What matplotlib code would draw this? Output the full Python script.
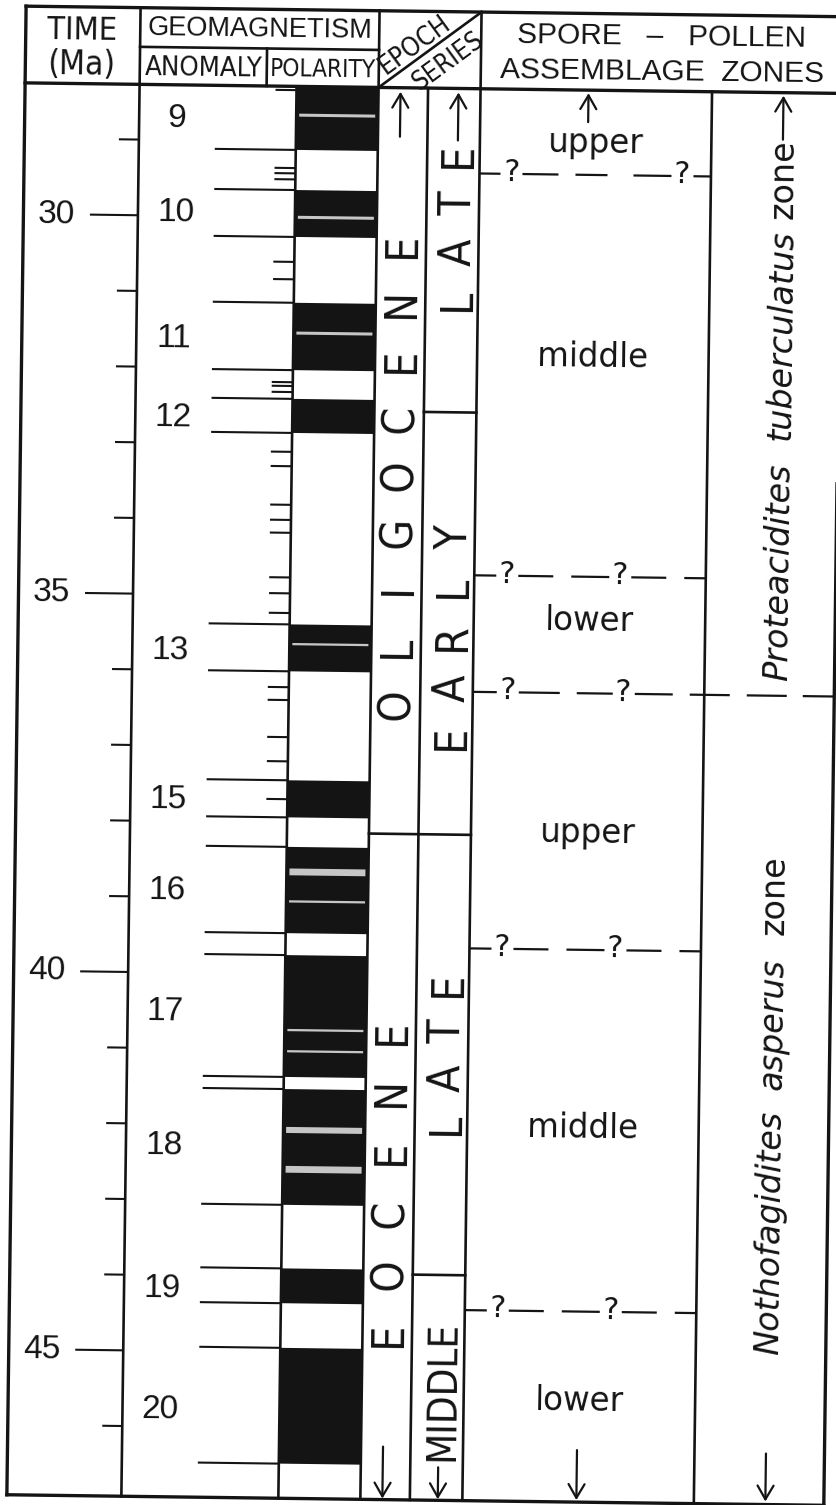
import numpy as np
import matplotlib
matplotlib.use("Agg")
import matplotlib.pyplot as plt
from matplotlib.patches import Rectangle
from matplotlib.transforms import Affine2D
from matplotlib import font_manager as fm

# ---- values (ages in Ma) ----
time_major = [30, 35, 40, 45]
time_minor = [29, 31, 32, 33, 34, 36, 37, 38, 39, 41, 42, 43, 44, 46]

anomaly_labels = ["9", "10", "11", "12", "13", "15", "16", "17", "18", "19", "20"]
anomaly_age = [28.67, 29.92, 31.58, 32.63, 35.70, 37.68, 38.88, 40.47, 42.25, 44.13, 45.74]

# normal polarity intervals (black)
normal_top = [28.27, 29.64, 31.13, 32.40, 35.38, 37.44, 38.32, 39.75, 41.52, 43.89, 44.94]
normal_base = [29.11, 30.26, 32.02, 32.85, 36.00, 37.93, 39.46, 41.36, 43.05, 44.35, 46.47]

# short reversed events inside the black intervals
event_age = [28.65, 30.00, 31.53, 35.64, 38.65, 39.04, 40.74, 41.02, 42.06, 42.58]
event_dur = [0.04, 0.04, 0.04, 0.03, 0.09, 0.03, 0.03, 0.03, 0.08, 0.09]

# tiny wiggles (short ticks left of polarity column)
tiny_age = [28.32, 29.35, 29.42, 29.50, 30.59, 30.82, 32.18, 32.23, 32.31, 33.10, 33.29,
            33.80, 34.00, 34.17, 34.76, 34.97, 35.23, 36.21, 36.38, 36.87, 37.19, 37.69]

epoch_boundary = 38.13
series_boundary = [32.55, 43.95]

subzone_bounds = [29.39, 34.70, 36.24, 39.63, 44.41]
zone_boundary = 36.24
subzone_names = ["upper", "middle", "lower", "upper", "middle", "lower"]
subzone_age = [28.96, 31.79, 35.27, 38.07, 41.98, 45.58]

# ---- scale: pixels per Ma on the page ----
MA_PX = 75.68
PX = 1 / MA_PX


def v2ma(v):
    return 30 + (v - 218.9) / MA_PX


def pick_condensed():
    # narrowest upright sans we can find, else plain Liberation Sans
    for fam in ["Liberation Sans Narrow", "Noto Sans", "Roboto", "Open Sans", "DejaVu Sans"]:
        for st in ["condensed", "semi-condensed", "normal"]:
            for f in fm.fontManager.ttflist:
                if f.name != fam or f.style != "normal":
                    continue
                if f.weight not in (400, "normal", "regular", "book"):
                    continue
                if fam.endswith("Narrow") and st == "normal" or (st != "normal" and f.stretch == st):
                    return fm.FontProperties(fname=f.fname)
    return fm.FontProperties(family="Liberation Sans")


SANS = "Liberation Sans"
ROUND = "DejaVu Sans"
INK = "#141414"
COND = pick_condensed()

fig = plt.figure(figsize=(8.36, 15.05), dpi=100)
fig.patch.set_facecolor("white")
renderer = fig.canvas.get_renderer()


def fitted(s, cap_px, width_px):
    # font with the wanted cap height, shrunk if the word is wider than the box
    fp = COND.copy()
    size = cap_px / 0.72 * 0.72
    fp.set_size(size)
    w, _, _ = renderer.get_text_width_height_descent(s, fp, ismath=False)
    if w > width_px:
        fp.set_size(size * width_px / w)
    return fp


lay = fig.add_axes([0, 0, 1, 1])
lay.set_xlim(0, 836)
lay.set_ylim(1505, 0)
lay.axis("off")
ax = fig.add_axes([0, 0, 1, 1])
ax.set_xlim(0, 836)
ax.set_ylim(v2ma(1505), v2ma(0))
ax.axis("off")

# the scanned sheet sits slightly turned
tilt = -0.74
rot = Affine2D().rotate_deg_around(418, 753, tilt)
TL = lay.transData + rot
TA = ax.transData + rot

# column layout (page pixels)
X_LEFT, X_TIME, X_POL_L, X_POL_R = 16.5, 131, 288, 370
X_EPOCH, X_SERIES, X_ZONE, X_RIGHT = 419.5, 472, 703.5, 833.5
X_ANOM_POL = 258
Y_TOP, Y_GEO, Y_HEAD, Y_BOT = 11.3, 50.5, 88, 1500


def line(a, tr, x0, y0, x1, y1, lw=1.9, cap="projecting"):
    a.plot([x0, x1], [y0, y1], color=INK, lw=lw, transform=tr,
           solid_capstyle=cap, clip_on=False)


# ---- frame ----
for x in [X_LEFT, X_RIGHT]:
    line(lay, TL, x, Y_TOP, x, Y_BOT, lw=2.4)
for y in [Y_TOP, Y_HEAD, Y_BOT]:
    line(lay, TL, X_LEFT, y, X_RIGHT, y, lw=2.4)
for x in [X_TIME, X_POL_R, X_SERIES]:
    line(lay, TL, x, Y_TOP, x, Y_BOT)
for x in [X_POL_L, X_EPOCH, X_ZONE]:
    line(lay, TL, x, Y_HEAD, x, Y_BOT)
line(lay, TL, X_TIME, Y_GEO, X_POL_R, Y_GEO)
line(lay, TL, X_ANOM_POL, Y_GEO, X_ANOM_POL, Y_HEAD)
line(lay, TL, X_POL_R, Y_HEAD, X_SERIES, Y_TOP)

# ---- header text ----
hkw = dict(transform=TL, rotation=tilt, color=INK, ha="center", va="baseline")
lay.text(73, 44.3, "TIME", fontproperties=fitted("TIME", 25, 70), **hkw)
lay.text(73, 79.5, "(Ma)", fontproperties=fitted("(Ma)", 25, 68), **hkw)
lay.text(251, 40, "GEOMAGNETISM", family=SANS, size=19.5, **hkw)
lay.text(195, 79.8, "ANOMALY", fontproperties=fitted("ANOMALY", 20.5, 118), **hkw)
lay.text(314, 78.8, "POLARITY", fontproperties=fitted("POLARITY", 20.5, 106), **hkw)
lay.text(652.5, 43.6, "SPORE   \u2013   POLLEN", family=SANS, size=21.5, **hkw)
lay.text(653, 78.6, "ASSEMBLAGE  ZONES", family=SANS, size=21.5, **hkw)
dkw = dict(transform=TL, rotation=36.8 + tilt, rotation_mode="anchor", color=INK,
           ha="center", va="center")
lay.text(406, 45, "EPOCH", fontproperties=fitted("EPOCH", 19.5, 82), **dkw)
lay.text(439, 61, "SERIES", fontproperties=fitted("SERIES", 19.5, 82), **dkw)

# ---- time scale ----
for t in time_major:
    line(ax, TA, 83, t, X_TIME, t, lw=1.5, cap="butt")
    ax.text(49.5, t + 9 * PX, str(t), transform=TA, rotation=tilt, ha="center",
            va="baseline", family=SANS, size=24, color=INK)
for t in time_minor:
    line(ax, TA, 111, t, X_TIME, t, lw=1.5, cap="butt")

# ---- geomagnetic polarity ----
for top, base in zip(normal_top, normal_base):
    ax.add_patch(Rectangle((X_POL_L, top), X_POL_R - X_POL_L, base - top,
                           facecolor=INK, edgecolor="none", transform=TA))
for a, d in zip(event_age, event_dur):
    ax.add_patch(Rectangle((X_POL_L + 3, a - d / 2), X_POL_R - X_POL_L - 6, d,
                           facecolor="#c6c6c6", edgecolor="none", transform=TA))
for a in normal_top[1:] + normal_base:
    line(ax, TA, 207, a, X_POL_L, a, lw=1.5, cap="butt")
for a in tiny_age:
    line(ax, TA, 267, a, X_POL_L, a, lw=1.5, cap="butt")
for lab, a in zip(anomaly_labels, anomaly_age):
    ax.text(169, a + 12 * PX, lab, transform=TA, rotation=tilt, ha="center",
            va="baseline", family=SANS, size=24, color=INK)

# ---- epoch / series ----
line(ax, TA, X_POL_R, epoch_boundary, X_SERIES, epoch_boundary)
for b in series_boundary:
    line(ax, TA, X_EPOCH, b, X_SERIES, b)

LETTER = COND.copy()
LETTER.set_size(32)


def vletters(word, u, a0, a1):
    for ch, a in zip(word, np.linspace(a0, a1, len(word))):
        ax.text(u + 16, a, ch, transform=TA, rotation=90 + tilt,
                rotation_mode="anchor", ha="center", va="baseline",
                fontproperties=LETTER, color=INK)


vletters("OLIGOCENE", 393, 36.42, 30.37)
vletters("EOCENE", 393, 44.75, 40.76)
vletters("LATE", 448, 31.07, 29.16)
vletters("EARLY", 448, 36.86, 34.21)
vletters("LATE", 448, 41.97, 40.12)
mid_fp = fitted("MIDDLE", 32, 140)
mid_cap = mid_fp.get_size_in_points() * 0.72 * 100 / 72
ax.text(448 + mid_cap / 2, 45.48, "MIDDLE", transform=TA,
        rotation=90 + tilt, rotation_mode="anchor", ha="center", va="baseline",
        fontproperties=mid_fp, color=INK)

# ---- spore-pollen zones ----
dash_layout = [
    ([(472, 493), (515, 551), (568, 600), (626, 664), (686, X_ZONE)], [505, 675]),
    ([(472, 494), (516, 551), (569, 607), (629, 664), (682, X_ZONE)], [505, 618]),
    ([(472, 496), (518, 559), (576, 612), (634, 672), (689, 729), (746, 786), (802, X_RIGHT)], [507, 622]),
    ([(472, 494), (516, 551), (569, 607), (629, 664), (682, X_ZONE)], [505, 618]),
    ([(472, 494), (516, 551), (569, 607), (629, 664), (682, X_ZONE)], [505, 618]),
]
for b, (segs, qs) in zip(subzone_bounds, dash_layout):
    for x0, x1 in segs:
        line(ax, TA, x0, b, x1, b, lw=1.6, cap="butt")
    for q in qs:
        ax.text(q, b + 7 * PX, "?", transform=TA, rotation=tilt, ha="center",
                va="baseline", family=ROUND, size=22, color=INK)

for name, a in zip(subzone_names, subzone_age):
    ax.text(588, a + 11 * PX, name, transform=TA, rotation=tilt, ha="center",
            va="baseline", family=ROUND, size=23.5, color=INK)

zkw = dict(transform=TA, rotation=90 + tilt, rotation_mode="anchor", ha="center",
           va="baseline", family=ROUND, size=24, color=INK)
ax.text(786, 34.61, "Proteacidites", style="italic", **zkw)
ax.text(786, 31.47, "tuberculatus", style="italic", **zkw)
ax.text(786, 29.41, "zone", **zkw)
ax.text(786, 43.33, "Nothofagidites", style="italic", **zkw)
ax.text(786, 40.57, "asperus", style="italic", **zkw)
ax.text(786, 38.87, "zone", **zkw)

# ---- arrows (page pixels) ----
akw = dict(arrowstyle="->,head_length=0.55,head_width=0.32", lw=1.6, color=INK,
           mutation_scale=18, shrinkA=0, shrinkB=0)
arrows = [(392, 137, 92), (450, 140, 92), (580, 120, 91), (775, 135, 91),
          (392, 1447, 1499), (447.4, 1467, 1499), (586, 1448, 1498), (775, 1449, 1497)]
for u, v0, v1 in arrows:
    lay.annotate("", xy=(u, v1), xytext=(u, v0), xycoords=TL, textcoords=TL,
                 arrowprops=akw)

fig.savefig("out.png", dpi=100, facecolor="white")
